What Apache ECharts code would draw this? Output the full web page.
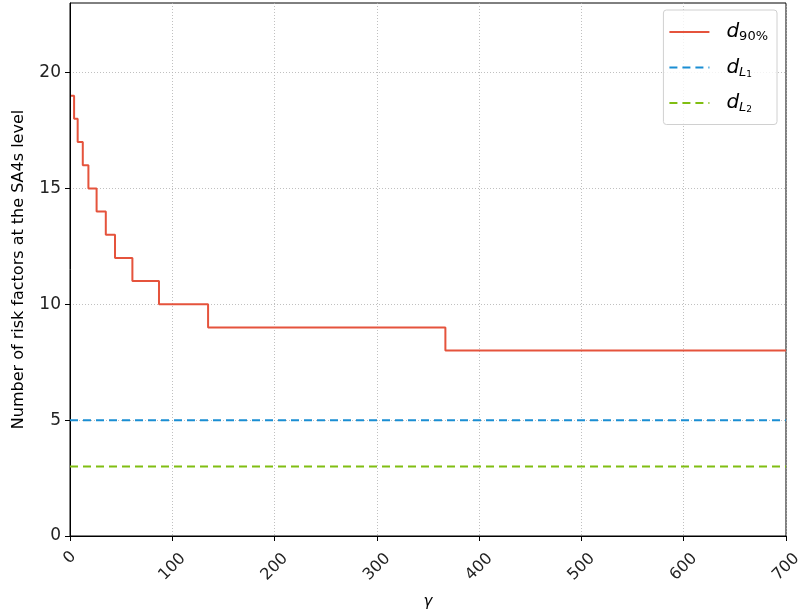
<!DOCTYPE html>
<html><head><meta charset="utf-8">
<script src="https://cdn.jsdelivr.net/npm/echarts@6/dist/echarts.min.js"></script>
<style>html,body{margin:0;padding:0;background:#fff}#c{width:802px;height:614px}</style>
</head><body><div id="c"></div>
<script>
// Step breakpoints for d_90% (value holds from each gamma to the next)
var gammaSteps = [1, 4, 7.5, 12.5, 18, 26, 35, 44, 61, 87, 135, 367, 700];
var d90Values  = [19, 18, 17, 16, 15, 14, 13, 12, 11, 10, 9, 8, 8];
var dL1Value = 5;
var dL2Value = 3;
var xRange = [0, 700];
var xTicks = [0, 100, 200, 300, 400, 500, 600, 700];
var yTicks = [0, 5, 10, 15, 20];

var chart = echarts.init(document.getElementById('c'));
var font = 'DejaVu Sans';
var d90Data = gammaSteps.map(function(g, i){ return [g, d90Values[i]]; });
var l1Data = xRange.map(function(g){ return [g, dL1Value]; });
var l2Data = xRange.map(function(g){ return [g, dL2Value]; });

var axisLine = {show: true, onZero: false, lineStyle: {color: '#000', width: 1}};
var gridLine = {show: true, lineStyle: {color: '#b0b0b0', type: [1, 2], width: 0.8}};

chart.setOption({
  animation: false,
  backgroundColor: '#fff',
  grid: {left: 70, right: 16, top: 3, bottom: 78, containLabel: false, outerBoundsMode: 'none',
         show: true, borderColor: '#000', borderWidth: 1},
  legend: {
    right: 25, top: 10,
    orient: 'vertical',
    itemWidth: 40, itemHeight: 14, itemGap: 14,
    padding: [12, 9, 10, 5],
    borderColor: '#d0d0d0', borderWidth: 1, borderRadius: 3,
    backgroundColor: 'rgba(255,255,255,0.8)',
    itemStyle: {opacity: 0},
    data: ['d90', 'dL1', 'dL2'],
    formatter: function(n){
      if (n === 'd90') return '{d|d}{s|90%}';
      if (n === 'dL1') return '{d|d}{l|L}{ss|1}';
      return '{d|d}{l|L}{ss|2}';
    },
    textStyle: {
      fontFamily: font, color: '#000',
      rich: {
        d: {fontSize: 20, fontStyle: 'italic', fontFamily: font, padding: [0,0,0,12]},
        s: {fontSize: 13, fontFamily: font, verticalAlign: 'bottom', padding: [10,0,0,0]},
        l: {fontSize: 13, fontStyle: 'italic', fontFamily: font, verticalAlign: 'bottom', padding: [10,0,0,0]},
        ss: {fontSize: 9, fontFamily: font, verticalAlign: 'bottom', padding: [14,0,0,0]}
      }
    }
  },
  xAxis: {
    type: 'value', min: 0, max: 700, interval: 100,
    name: 'γ', nameLocation: 'middle', nameGap: 59,
    nameTextStyle: {fontFamily: font, fontSize: 15, fontStyle: 'italic', color: '#000'},
    axisLine: axisLine,
    axisTick: {show: true, length: 5, lineStyle: {color: '#000'}},
    axisLabel: {rotate: 45, align: 'center', verticalAlign: 'middle', fontFamily: font, fontSize: 16, color: '#222', margin: 31,
      formatter: function(v){
        if (xTicks.indexOf(v) < 0) return '';
        return String(v).length === 1 ? '{z|' + v + '}' : String(v);
      },
      rich: {z: {fontFamily: font, fontSize: 16, color: '#222', padding: [0, 0, 13, 13]}}
    },
    splitLine: gridLine
  },
  yAxis: {
    type: 'value', min: 0, max: 23, interval: 5,
    name: 'Number of risk factors at the SA4s level', nameLocation: 'middle', nameGap: 43,
    nameTextStyle: {fontFamily: font, fontSize: 16, color: '#000'},
    axisLine: axisLine,
    axisTick: {show: true, length: 5, lineStyle: {color: '#000'}, customValues: yTicks},
    axisLabel: {fontFamily: font, fontSize: 17, color: '#222', margin: 9, customValues: yTicks},
    splitLine: gridLine
  },
  series: [
    {name: 'd90', type: 'line', step: 'end', data: d90Data, symbol: 'none',
     lineStyle: {color: '#E5533C', width: 2}, itemStyle: {color: '#E5533C'}},
    {name: 'dL1', type: 'line', data: l1Data, symbol: 'none',
     lineStyle: {color: '#1A8ED3', width: 2, type: [8, 5]}, itemStyle: {color: '#1A8ED3'}},
    {name: 'dL2', type: 'line', data: l2Data, symbol: 'none',
     lineStyle: {color: '#80BE12', width: 2, type: [8, 5]}, itemStyle: {color: '#80BE12'}}
  ]
});
</script></body></html>
